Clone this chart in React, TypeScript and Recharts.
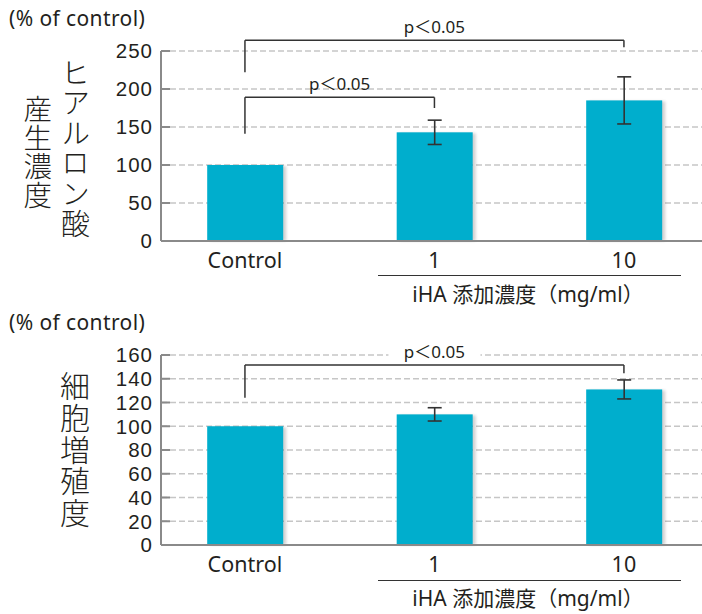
import React from 'react'
import { BarChart, Bar, XAxis, YAxis, CartesianGrid, ErrorBar, ReferenceLine } from 'recharts'

const categories = ['Control', '1', '10']

// ヒアルロン酸産生濃度 (% of control)
const haValues = [100, 143, 185]
const haErrors = [null, 16, 31]
const haTicks = [0, 50, 100, 150, 200, 250]
const haBrackets = [
  { from: 0, to: 2, top: 264, leftEnd: 222, rightEnd: 255 },
  { from: 0, to: 1, top: 189, leftEnd: 141, rightEnd: 175 }
]

// 細胞増殖度 (% of control)
const prolifValues = [100, 110, 131]
const prolifErrors = [null, 5.6, 8]
const prolifTicks = [0, 20, 40, 60, 80, 100, 120, 140, 160]
const prolifBrackets = [{ from: 0, to: 2, top: 151.6, leftEnd: 124, rightEnd: 144.6 }]

const sigLabel = 'p＜0.05'
const unitLabel = '(% of control)'
const xTitle = 'iHA 添加濃度（mg/ml）'

const BAR = '#00aecd'
const INK = '#231f20'
const AXIS = '#8a8a8a'
const xDomain = [-0.443, 2.412]

const BracketLabel = (props: any) => {
  const { viewBox, masked } = props
  const cx = viewBox.x + viewBox.width / 2
  const y = viewBox.y
  return (
    <g>
      {masked && <rect x={cx - 46} y={y - 24} width={92} height={18} fill="#fff" />}
      <text x={cx} y={y - 7} textAnchor="middle" fontSize={17} fill={INK}>
        {sigLabel}
      </text>
    </g>
  )
}

const ShadowBar = (props: any) => {
  const { x, y, width, height, fid } = props
  if (!height) return null
  return (
    <g>
      <rect x={x + 3} y={y + 1} width={width} height={height - 1} fill="#000" opacity={0.18} filter={`url(#${fid})`} />
      <rect x={x} y={y} width={width} height={height} fill={BAR} />
    </g>
  )
}

// one text node laid out top-to-bottom
const VerticalText = ({ text, cx, top, size, step }: any) => (
  <div
    style={{
      position: 'absolute',
      left: cx - size / 2,
      top,
      width: size,
      fontSize: size,
      lineHeight: `${size}px`,
      letterSpacing: step - size,
      writingMode: 'vertical-rl',
      textOrientation: 'upright',
      fontFamily: "'Noto Sans CJK JP', sans-serif",
      fontWeight: 300,
      whiteSpace: 'nowrap',
      color: INK
    }}
  >
    {text}
  </div>
)

const Caption = ({ text, left, top, size, center, spacing }: any) => (
  <div
    style={{
      position: 'absolute',
      left: center ? left - 150 : left,
      width: center ? 300 : undefined,
      textAlign: center ? 'center' : 'left',
      top,
      fontSize: size,
      lineHeight: 1,
      letterSpacing: spacing,
      whiteSpace: 'nowrap',
      color: INK
    }}
  >
    {text}
  </div>
)

interface PanelProps {
  values: number[]
  errors: (number | null)[]
  ticks: number[]
  brackets: typeof haBrackets
  height: number
  top: number
  plotTop: number
  xAxisHeight: number
  masked?: boolean
  fid: string
}

const Panel: React.FC<PanelProps> = ({ values, errors, ticks, brackets, height, top, plotTop, xAxisHeight, masked, fid }) => {
  const data = categories.map((name, i) => ({ idx: i, name, value: values[i], err: errors[i] }))
  return (
    <div style={{ position: 'absolute', left: 0, top }}>
      <BarChart width={702} height={height} data={data} margin={{ top: plotTop, right: 0, left: 0, bottom: 0 }}>
        <defs>
          <filter id={fid} x="-20%" y="-20%" width="140%" height="140%">
            <feGaussianBlur stdDeviation={1.5} />
          </filter>
        </defs>
        <CartesianGrid vertical={false} stroke="#c6c6c6" strokeWidth={1.5} strokeDasharray="6 3" />
        <XAxis
          type="number"
          dataKey="idx"
          domain={xDomain}
          allowDataOverflow
          ticks={[0, 1, 2]}
          interval={0}
          tickFormatter={(v: number) => categories[v]}
          axisLine={{ stroke: AXIS, strokeWidth: 2 }}
          tickLine={false}
          tickMargin={6}
          tick={{ fontSize: 21.5, fill: INK }}
          height={xAxisHeight}
        />
        <YAxis
          domain={[0, ticks[ticks.length - 1]]}
          ticks={ticks}
          interval={0}
          width={161}
          axisLine={{ stroke: AXIS, strokeWidth: 2 }}
          tickLine={{ stroke: AXIS, strokeWidth: 2 }}
          tickSize={-9}
          tickMargin={17}
          tick={{ fontSize: 20.5, fill: INK, fontFamily: "'Liberation Sans', sans-serif", letterSpacing: 1 }}
        />
        <Bar dataKey="value" fill={BAR} barSize={76} isAnimationActive={false} shape={(p: any) => <ShadowBar {...p} fid={fid} />}>
          <ErrorBar dataKey="err" direction="y" width={7} stroke="#333" strokeWidth={1.6} />
        </Bar>
        {brackets.map((b, i) => (
          <ReferenceLine
            key={`l${i}`}
            ifOverflow="visible"
            stroke="#333"
            strokeWidth={1.5}
            segment={[{ x: b.from, y: b.leftEnd }, { x: b.from, y: b.top }]}
          />
        ))}
        {brackets.map((b, i) => (
          <ReferenceLine
            key={`r${i}`}
            ifOverflow="visible"
            stroke="#333"
            strokeWidth={1.5}
            segment={[{ x: b.to, y: b.rightEnd }, { x: b.to, y: b.top }]}
          />
        ))}
        {brackets.map((b, i) => (
          <ReferenceLine
            key={`h${i}`}
            ifOverflow="visible"
            stroke="#333"
            strokeWidth={1.5}
            segment={[{ x: b.from, y: b.top }, { x: b.to, y: b.top }]}
            label={<BracketLabel masked={masked} />}
          />
        ))}
      </BarChart>
    </div>
  )
}

const App: React.FC = () => {
  return (
    <div
      style={{
        position: 'absolute',
        left: 0,
        top: 0,
        width: 702,
        height: 614,
        background: '#fff',
        fontFamily: "'Noto Sans', 'Noto Sans CJK JP', sans-serif",
        color: INK
      }}
    >
      <Panel
        values={haValues}
        errors={haErrors}
        ticks={haTicks}
        brackets={haBrackets}
        height={305}
        top={0}
        plotTop={51}
        xAxisHeight={64}
        fid="shadowTop"
      />
      <Panel
        values={prolifValues}
        errors={prolifErrors}
        ticks={prolifTicks}
        brackets={prolifBrackets}
        height={309}
        top={305}
        plotTop={50}
        xAxisHeight={69}
        masked
        fid="shadowBottom"
      />

      <Caption text={unitLabel} left={9} top={8} size={21} spacing={0.4} />
      <VerticalText text="ヒアルロン酸" cx={75} top={58} size={29} step={30.3} />
      <VerticalText text="産生濃度" cx={37} top={95} size={28.5} step={28.5} />
      <div style={{ position: 'absolute', left: 378, top: 275, width: 303, borderTop: '1.5px solid #333' }} />
      <Caption text={xTitle} left={528} top={284} size={21} center />

      <Caption text={unitLabel} left={9} top={312} size={21} spacing={0.4} />
      <VerticalText text="細胞増殖度" cx={75} top={371} size={30} step={31.6} />
      <div style={{ position: 'absolute', left: 378, top: 580, width: 303, borderTop: '1.5px solid #333' }} />
      <Caption text={xTitle} left={528} top={588} size={21} center />
    </div>
  )
}

export default App
